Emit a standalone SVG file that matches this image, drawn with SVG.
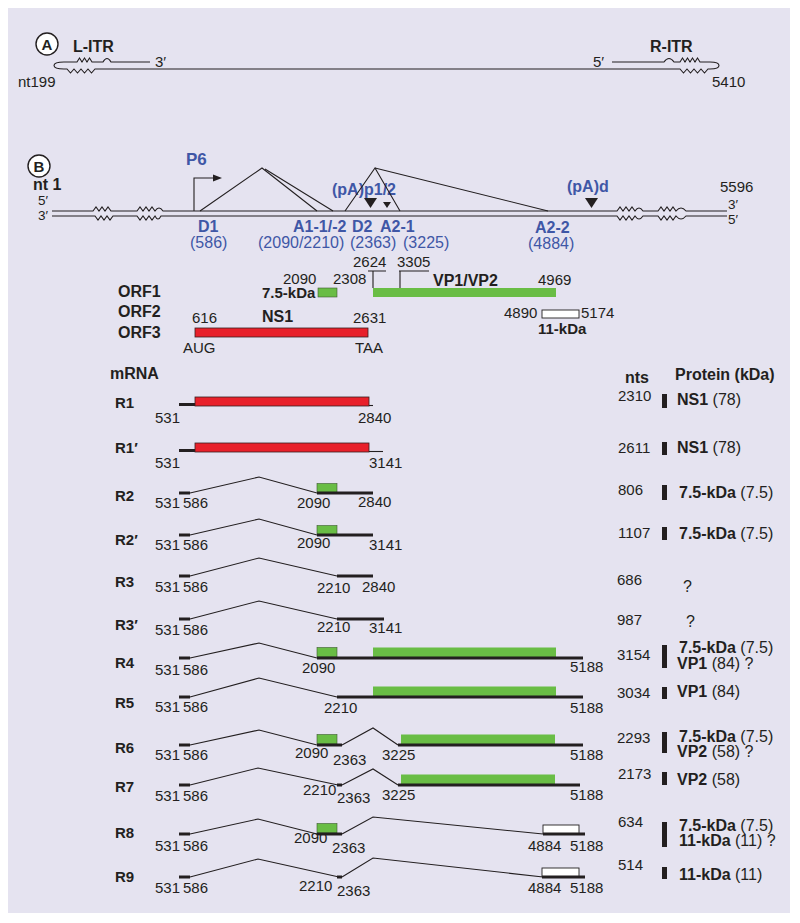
<svg xmlns="http://www.w3.org/2000/svg" width="800" height="923" viewBox="0 0 800 923">
<style>
text{font-family:"Liberation Sans",Arial,Helvetica,sans-serif;fill:#231f20;font-size:15px}
.b{font-weight:bold;font-size:16px}
.bs{font-weight:bold;font-size:15px}
.blue{fill:#3f57a6}
.bl{fill:#3f57a6;font-size:16px}
.pr{font-size:16px}
.sm{font-size:13.5px}
.thin{fill:none;stroke:#231f20;stroke-width:1.1;stroke-linejoin:miter}
.thk{fill:none;stroke:#231f20;stroke-width:3}
.red{fill:#e8202a;stroke:#3a2020;stroke-width:0.8}
.grn{fill:#69bd45;stroke:#3c5a30;stroke-width:0.6}
.wht{fill:#ffffff;stroke:#231f20;stroke-width:0.9}
.bar{fill:#231f20}
</style>
<rect x="8" y="8" width="782" height="905" fill="#e5e3f0"/>

<!-- Panel A -->
<g id="panelA">
  <circle cx="47" cy="44" r="11" fill="#ffffff" stroke="#231f20" stroke-width="1.4"/>
  <text x="47" y="49.5" text-anchor="middle" class="bs">A</text>
  <text x="73" y="52" class="b">L-ITR</text>
  <text x="155" y="67">3′</text>
  <text x="18" y="87">nt199</text>
  <text x="650" y="52" class="b">R-ITR</text>
  <text x="593" y="67">5′</text>
  <text x="712" y="87">5410</text>
  <path class="thin" d="M150,62 H111 Q107,55 103,62 H92 L89.5,58 L87,62 L84.5,58 L82,62 L79.5,58 L77,62 H64 C58,62 54,63 54,65.5 C54,68 58,69 64,69 H67 L70.5,73 L74,69 L77.5,73 L81,69 L84.5,73 L88,69 L91.5,73 L95,69 H680 L683.5,73 L687,69 L690.5,73 L694,69 L697.5,73 L701,69 L704.5,73 L708,69 H710 C716,69 719,68 719,65.5 C719,63 716,62 710,62 H700 L697.5,58 L695,62 L692.5,58 L690,62 L687.5,58 L685,62 L682.5,58 L680,62 H674 Q669,55 664,62 H612"/>
</g>

<!-- Panel B genome -->
<g id="panelB">
  <circle cx="39" cy="166" r="11" fill="#ffffff" stroke="#231f20" stroke-width="1.4"/>
  <text x="39" y="171.5" text-anchor="middle" class="bs">B</text>
  <text x="33" y="190" class="b">nt 1</text>
  <text x="38" y="205" class="sm">5′</text>
  <text x="38" y="220" class="sm">3′</text>
  <text x="720" y="192">5596</text>
  <text x="728" y="209" class="sm">3′</text>
  <text x="728" y="224" class="sm">5′</text>
  <path class="thin" d="M52,211 H93 L96,207 L99,211 L102,207 L105,211 L108,207 L111,211 H137 L140,207 L143,211 L146,207 L149,211 L152,207 L155,211 Q159,205 163,211 H617 L620,207 L623,211 L626,207 L629,211 L632,207 L635,211 Q639,205 643,211 H658 L661,207 L664,211 L667,207 L670,211 L673,207 L676,211 Q681,205 686,211 H727"/>
  <path class="thin" d="M52,216 H95 L98,220 L101,216 L104,220 L107,216 L110,220 L113,216 H137 L140,220 L143,216 L146,220 L149,216 L152,220 L155,216 Q158,222 161,216 H617 L620,220 L623,216 L626,220 L629,216 L632,220 L635,216 Q639,222 643,216 H658 L661,220 L664,216 L667,220 L670,216 L673,220 L676,216 Q681,222 686,216 H727"/>
</g>

<g id="promoter">
  <text x="186" y="165" class="b blue" style="font-size:17px">P6</text>
  <path class="thin" d="M194,211 V178 H214"/>
  <polygon points="213,174.5 222,178 213,181.5" fill="#231f20"/>
</g>

<g id="splice-sites">
  <text x="198" y="232" class="b blue">D1</text>
  <text x="190" y="248" class="bl">(586)</text>
  <text x="293" y="232" class="b blue">A1-1/-2</text>
  <text x="352" y="232" class="b blue">D2</text>
  <text x="380" y="232" class="b blue">A2-1</text>
  <text x="258" y="248" class="bl">(2090/2210)</text>
  <text x="350" y="248" class="bl">(2363)</text>
  <text x="403" y="248" class="bl">(3225)</text>
  <text x="535" y="233" class="b blue">A2-2</text>
  <text x="528" y="249" class="bl">(4884)</text>
  <text x="332" y="195" class="b blue">(pA)p1/2</text>
  <text x="567" y="192" class="b blue">(pA)d</text>
  <polygon points="364,198 377,198 370.5,208" fill="#231f20"/>
  <polygon points="383,202 391,202 387,208" fill="#231f20"/>
  <polygon points="585,198 598,198 591.5,208" fill="#231f20"/>
</g>

<g id="connectors">
  <path class="thin" d="M200,211 L262,168 L317,211"/>
  <path class="thin" d="M265,169 L333,211"/>
  <path class="thin" d="M345,211 L375,168 L400,211"/>
  <path class="thin" d="M375,168 L548,211"/>
</g>

<!-- ORFs -->
<g id="orfs">
  <text x="118" y="297" class="b">ORF1</text>
  <text x="118" y="317" class="b">ORF2</text>
  <text x="118" y="338" class="b">ORF3</text>
  <text x="283" y="284">2090</text>
  <text x="333" y="284">2308</text>
  <text x="353" y="267">2624</text>
  <text x="397" y="267">3305</text>
  <path class="thin" d="M368,271 H386 M373,271 V288"/>
  <path class="thin" d="M399,271 H429 M400,271 V288"/>
  <text x="262" y="298" class="bs">7.5-kDa</text>
  <rect x="318" y="288" width="19" height="9" class="grn"/>
  <rect x="373" y="288" width="183" height="9" fill="#69bd45"/>
  <text x="433" y="286" class="b">VP1/VP2</text>
  <text x="538" y="285">4969</text>
  <text x="192" y="323">616</text>
  <text x="262" y="322" class="b">NS1</text>
  <text x="353" y="323">2631</text>
  <rect x="195" y="328" width="173" height="9" class="red"/>
  <text x="183" y="353">AUG</text>
  <text x="355" y="353">TAA</text>
  <text x="504" y="318">4890</text>
  <rect x="542" y="310" width="37" height="8" class="wht"/>
  <text x="581" y="318">5174</text>
  <text x="538" y="334" class="bs">11-kDa</text>
</g>

<g id="headers">
  <text x="110" y="379" class="b">mRNA</text>
  <text x="625" y="383" class="b">nts</text>
  <text x="675" y="380" class="b">Protein (kDa)</text>
</g>

<!-- mRNA rows -->
<g id="R1">
  <text x="115" y="408" class="bs">R1</text>
  <path class="thk" d="M179,404.5 H196"/>
  <rect x="195" y="397" width="174" height="9" class="red"/>
  <path class="thin" d="M369,405.5 H373"/>
  <text x="155" y="423">531</text>
  <text x="358" y="423">2840</text>
  <text x="618" y="401">2310</text>
  <rect x="662" y="394" width="5" height="14" class="bar"/>
  <text x="677" y="405" class="pr"><tspan font-weight="bold">NS1</tspan> (78)</text>
</g>
<g id="R1p">
  <text x="115" y="453" class="bs">R1′</text>
  <path class="thk" d="M179,450.5 H196"/>
  <rect x="195" y="443" width="174" height="9" class="red"/>
  <path class="thin" d="M369,451.5 H383"/>
  <text x="155" y="468">531</text>
  <text x="369" y="468">3141</text>
  <text x="618" y="453">2611</text>
  <rect x="662" y="442" width="5" height="13" class="bar"/>
  <text x="677" y="453" class="pr"><tspan font-weight="bold">NS1</tspan> (78)</text>
</g>
<g id="R2">
  <text x="115" y="501" class="bs">R2</text>
  <path class="thk" d="M179,493 H190"/>
  <path class="thin" d="M190,493 L259,477 L317,493"/>
  <rect x="317" y="483.5" width="20" height="9" class="grn"/>
  <path class="thk" d="M317,493 H373"/>
  <text x="155" y="508">531</text>
  <text x="183" y="508">586</text>
  <text x="297" y="508">2090</text>
  <text x="358" y="507">2840</text>
  <text x="618" y="495">806</text>
  <rect x="662" y="485" width="5" height="15" class="bar"/>
  <text x="679" y="498" class="pr"><tspan font-weight="bold">7.5-kDa</tspan> (7.5)</text>
</g>
<g id="R2p">
  <text x="115" y="545" class="bs">R2′</text>
  <path class="thk" d="M179,535 H190"/>
  <path class="thin" d="M190,535 L259,519 L317,535"/>
  <rect x="317" y="525.5" width="20" height="9" class="grn"/>
  <path class="thk" d="M317,535 H373"/>
  <text x="155" y="550">531</text>
  <text x="183" y="550">586</text>
  <text x="297" y="548">2090</text>
  <text x="369" y="550">3141</text>
  <text x="618" y="538">1107</text>
  <rect x="662" y="527" width="5" height="13" class="bar"/>
  <text x="679" y="539" class="pr"><tspan font-weight="bold">7.5-kDa</tspan> (7.5)</text>
</g>
<g id="R3">
  <text x="115" y="587" class="bs">R3</text>
  <path class="thk" d="M179,576 H190"/>
  <path class="thin" d="M190,576 L259,558 L337,576"/>
  <path class="thk" d="M337,576 H373"/>
  <text x="155" y="592">531</text>
  <text x="183" y="592">586</text>
  <text x="317" y="593">2210</text>
  <text x="362" y="592">2840</text>
  <text x="617" y="585">686</text>
  <text x="683" y="592" class="pr">?</text>
</g>
<g id="R3p">
  <text x="115" y="630" class="bs">R3′</text>
  <path class="thk" d="M179,619 H190"/>
  <path class="thin" d="M190,619 L259,601 L337,619"/>
  <path class="thk" d="M337,619 H384"/>
  <text x="155" y="635">531</text>
  <text x="183" y="635">586</text>
  <text x="317" y="632">2210</text>
  <text x="369" y="633">3141</text>
  <text x="617" y="625">987</text>
  <text x="686" y="627" class="pr">?</text>
</g>
<g id="R4">
  <text x="115" y="668" class="bs">R4</text>
  <path class="thk" d="M179,658 H190"/>
  <path class="thin" d="M190,658 L259,643 L317,658"/>
  <rect x="317" y="647.5" width="20" height="9.5" class="grn"/>
  <rect x="373" y="647.5" width="183" height="9.5" fill="#69bd45"/>
  <path class="thk" d="M317,658 H583"/>
  <text x="155" y="675">531</text>
  <text x="183" y="675">586</text>
  <text x="302" y="673">2090</text>
  <text x="570" y="672">5188</text>
  <text x="617" y="660">3154</text>
  <rect x="662" y="645" width="5" height="23" class="bar"/>
  <text x="679" y="653" class="pr"><tspan font-weight="bold">7.5-kDa</tspan> (7.5)</text>
  <text x="677" y="669" class="pr"><tspan font-weight="bold">VP1</tspan> (84) ?</text>
</g>
<g id="R5">
  <text x="115" y="708" class="bs">R5</text>
  <path class="thk" d="M179,697 H190"/>
  <path class="thin" d="M190,697 L259,678 L337,697"/>
  <rect x="373" y="686.5" width="183" height="9.5" fill="#69bd45"/>
  <path class="thk" d="M337,697 H583"/>
  <text x="155" y="712">531</text>
  <text x="183" y="712">586</text>
  <text x="324" y="713">2210</text>
  <text x="570" y="713">5188</text>
  <text x="617" y="698">3034</text>
  <rect x="662" y="687" width="5" height="12" class="bar"/>
  <text x="677" y="697" class="pr"><tspan font-weight="bold">VP1</tspan> (84)</text>
</g>
<g id="R6">
  <text x="115" y="753" class="bs">R6</text>
  <path class="thk" d="M179,745 H190"/>
  <path class="thin" d="M190,745 L259,730 L317,745"/>
  <rect x="317" y="734.5" width="20" height="9.5" class="grn"/>
  <path class="thk" d="M317,745 H342"/>
  <path class="thin" d="M342,745 L373,728 L398,745"/>
  <rect x="401" y="734.5" width="154" height="9.5" fill="#69bd45"/>
  <path class="thk" d="M398,745 H583"/>
  <text x="155" y="760">531</text>
  <text x="183" y="760">586</text>
  <text x="295" y="758">2090</text>
  <text x="333" y="765">2363</text>
  <text x="382" y="760">3225</text>
  <text x="570" y="760">5188</text>
  <text x="617" y="743">2293</text>
  <rect x="662" y="732" width="5" height="21" class="bar"/>
  <text x="679" y="742" class="pr"><tspan font-weight="bold">7.5-kDa</tspan> (7.5)</text>
  <text x="677" y="757" class="pr"><tspan font-weight="bold">VP2</tspan> (58) ?</text>
</g>
<g id="R7">
  <text x="115" y="792" class="bs">R7</text>
  <path class="thk" d="M179,785 H190"/>
  <path class="thin" d="M190,785 L258,768 L338,785"/>
  <path class="thk" d="M337,785 H342"/>
  <path class="thin" d="M342,785 L373,769 L398,785"/>
  <rect x="401" y="774.5" width="154" height="9.5" fill="#69bd45"/>
  <path class="thk" d="M398,785 H580"/>
  <text x="155" y="801">531</text>
  <text x="183" y="801">586</text>
  <text x="303" y="795">2210</text>
  <text x="337" y="803">2363</text>
  <text x="382" y="800">3225</text>
  <text x="570" y="800">5188</text>
  <text x="618" y="779">2173</text>
  <rect x="662" y="772" width="5" height="13" class="bar"/>
  <text x="677" y="785" class="pr"><tspan font-weight="bold">VP2</tspan> (58)</text>
</g>
<g id="R8">
  <text x="115" y="838" class="bs">R8</text>
  <path class="thk" d="M179,834 H190"/>
  <path class="thin" d="M190,834 L258,819 L317,834"/>
  <rect x="317" y="823.5" width="20" height="9.5" class="grn"/>
  <path class="thk" d="M317,834 H342"/>
  <path class="thin" d="M342,834 L373,817 L543,834"/>
  <rect x="543" y="825" width="36" height="8.5" class="wht"/>
  <path class="thk" d="M543,834 H585"/>
  <text x="155" y="851">531</text>
  <text x="183" y="851">586</text>
  <text x="294" y="843">2090</text>
  <text x="332" y="853">2363</text>
  <text x="528" y="851">4884</text>
  <text x="570" y="851">5188</text>
  <text x="618" y="827">634</text>
  <rect x="662" y="822" width="5" height="25" class="bar"/>
  <text x="679" y="831" class="pr"><tspan font-weight="bold">7.5-kDa</tspan> (7.5)</text>
  <text x="679" y="846" class="pr"><tspan font-weight="bold">11-kDa</tspan> (11) ?</text>
</g>
<g id="R9">
  <text x="115" y="882" class="bs">R9</text>
  <path class="thk" d="M179,877 H190"/>
  <path class="thin" d="M190,877 L258,859 L339,877"/>
  <path class="thk" d="M337,877 H342"/>
  <path class="thin" d="M342,877 L373,858 L543,877"/>
  <rect x="542" y="868" width="37" height="8.5" class="wht"/>
  <path class="thk" d="M542,877 H585"/>
  <text x="155" y="893">531</text>
  <text x="183" y="893">586</text>
  <text x="299" y="891">2210</text>
  <text x="337" y="896">2363</text>
  <text x="528" y="893">4884</text>
  <text x="570" y="893">5188</text>
  <text x="618" y="870">514</text>
  <rect x="662" y="867" width="5" height="12" class="bar"/>
  <text x="679" y="880" class="pr"><tspan font-weight="bold">11-kDa</tspan> (11)</text>
</g>
</svg>
